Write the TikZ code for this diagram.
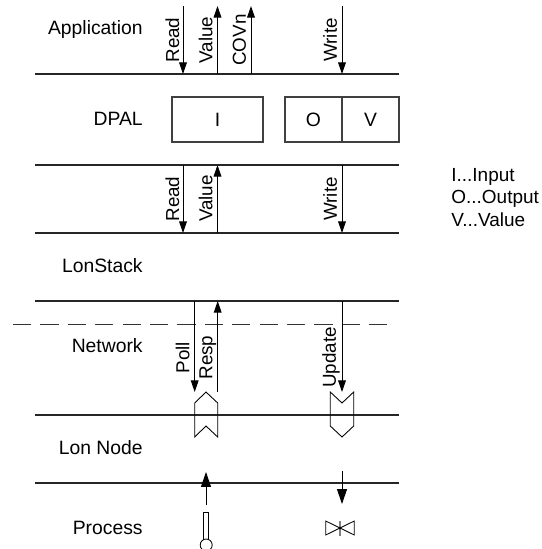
\documentclass[tikz,border=0pt]{standalone}
\usepackage{fontspec}
\setmainfont{Liberation Sans}
\usetikzlibrary{arrows.meta}
\tikzset{
  layer/.style={line width=0.6pt, black!85},
  flow/.style={line width=0.55pt, -{Triangle[length=6.6pt,width=4.4pt]}},
  bigflow/.style={line width=0.55pt, -{Triangle[length=8.5pt,width=5.7pt]}},
  txt/.style={inner sep=0pt, font=\fontsize{11}{13}\selectfont},
  lbl/.style={txt, anchor=base east},
  keyline/.style={inner sep=0pt, font=\fontsize{10.8}{13}\selectfont, anchor=base west},
  vert/.style={inner sep=0pt, font=\fontsize{10.7}{13}\selectfont, anchor=base, rotate=90},
  cell/.style={draw, black!75, text=black, line width=0.6pt, minimum height=0.9cm, inner sep=0pt, font=\fontsize{11}{13}\selectfont, text height=8pt, text depth=0pt},
  sym/.style={line width=0.5pt}
}
\begin{document}
\begin{tikzpicture}[x=0.02cm, y=-0.02cm]
  \useasboundingbox (0,0) rectangle (542,549);
  % layer lines
  \coordinate (l1a) at (35.5,74);   \coordinate (l1b) at (399,74);
  \coordinate (l2a) at (35.5,165);  \coordinate (l2b) at (399,165);
  \coordinate (l3a) at (35.5,233);  \coordinate (l3b) at (399,233);
  \coordinate (l4a) at (35.5,301);  \coordinate (l4b) at (399,301);
  \coordinate (l5a) at (35.5,415);  \coordinate (l5b) at (399,415);
  \coordinate (l6a) at (35.5,483);  \coordinate (l6b) at (399,483);
  \coordinate (da) at (13,324);     \coordinate (db) at (391,324);
  \draw[layer] (l1a) -- (l1b);
  \draw[layer] (l2a) -- (l2b);
  \draw[layer] (l3a) -- (l3b);
  \draw[layer] (l4a) -- (l4b);
  \draw[layer] (l5a) -- (l5b);
  \draw[layer] (l6a) -- (l6b);
  \draw[line width=0.5pt, black!80, dash pattern=on 10.3pt off 5.3pt] (da) -- (db);
  % layer names
  \node[lbl] (app) at (143,34) {Application};
  \node[lbl] (dpal) at (143,125) {DPAL};
  \node[lbl] (stack) at (143,272) {LonStack};
  \node[lbl] (net) at (143,352) {Network};
  \node[lbl] (lonnode) at (143,454) {Lon Node};
  \node[lbl] (proc) at (143,534) {Process};
  % DPAL boxes
  \node[cell, minimum width=1.82cm] (bi) at (217.5,119.5) {I};
  \node[cell, minimum width=1.14cm] (bo) at (313.5,119.5) {O};
  \node[cell, minimum width=1.14cm] (bv) at (370.5,119.5) {V};
  % top arrows
  \coordinate (r1t) at (183,6);    \coordinate (r1b) at (183,74);
  \coordinate (v1t) at (217.5,6);  \coordinate (v1b) at (217.5,74);
  \coordinate (c1t) at (251,6);    \coordinate (c1b) at (251,74);
  \coordinate (w1t) at (342,6);    \coordinate (w1b) at (342,74);
  \draw[flow] (r1t) -- (r1b);
  \draw[flow] (v1b) -- (v1t);
  \draw[flow] (c1b) -- (c1t);
  \draw[flow] (w1t) -- (w1b);
  \node[vert] (tread) at (179,40) {Read};
  \node[vert] (tvalue) at (212.3,40) {Value};
  \node[vert] (tcovn) at (246,40) {COVn};
  \node[vert] (twrite) at (337,40) {Write};
  % middle arrows
  \coordinate (r2t) at (183,165);    \coordinate (r2b) at (183,233);
  \coordinate (v2t) at (217.5,165);  \coordinate (v2b) at (217.5,233);
  \coordinate (w2t) at (342,165);    \coordinate (w2b) at (342,233);
  \draw[flow] (r2t) -- (r2b);
  \draw[flow] (v2b) -- (v2t);
  \draw[flow] (w2t) -- (w2b);
  \node[vert] (mread) at (179,199) {Read};
  \node[vert] (mvalue) at (212.3,198.5) {Value};
  \node[vert] (mwrite) at (337,199) {Write};
  % network arrows
  \coordinate (pt) at (194.7,301);  \coordinate (pb) at (194.7,392);
  \coordinate (rt) at (217.7,301);  \coordinate (rb) at (217.7,392);
  \coordinate (ut) at (342,301);    \coordinate (ub) at (342,392);
  \draw[flow] (pt) -- (pb);
  \draw[flow] (rb) -- (rt);
  \draw[flow] (ut) -- (ub);
  \node[vert] (tpoll) at (189.3,357.5) {Poll};
  \node[vert] (tresp) at (212.3,357.5) {Resp};
  \node[vert] (tupd) at (336,357.5) {Update};
  % in and out symbols
  \draw[sym] (194.7,437) -- (194.7,403) -- (206,392) -- (217.7,403) -- (217.7,437) -- (206,426) -- cycle;
  \draw[sym] (330.3,392) -- (342,403) -- (353.7,392) -- (353.7,426) -- (342,437) -- (330.3,426) -- cycle;
  % process arrows
  \coordinate (sa) at (206,505);  \coordinate (sb) at (206,472);
  \coordinate (aa) at (342,471);  \coordinate (ab) at (342,504);
  \draw[bigflow] (sa) -- (sb);
  \draw[bigflow] (aa) -- (ab);
  % sensor and valve
  \draw[sym] (203.3,540) -- (203.3,512.5) -- (208.5,512.5) -- (208.5,540);
  \draw[sym] (206.2,545) circle (6);
  \draw[sym] (340,528) -- (325.7,521) -- (325.7,535) -- (354.3,521) -- (354.3,535) -- cycle;
  \draw[line width=0.7pt, gray] (340,520.5) -- (340,535.5);
  \fill (340,528) circle (1.5);
  % legend
  \node[keyline] (li) at (451,181) {I...Input};
  \node[keyline] (lo) at (451,203.5) {O...Output};
  \node[keyline] (lv) at (451,226) {V...Value};
\end{tikzpicture}
\end{document}
